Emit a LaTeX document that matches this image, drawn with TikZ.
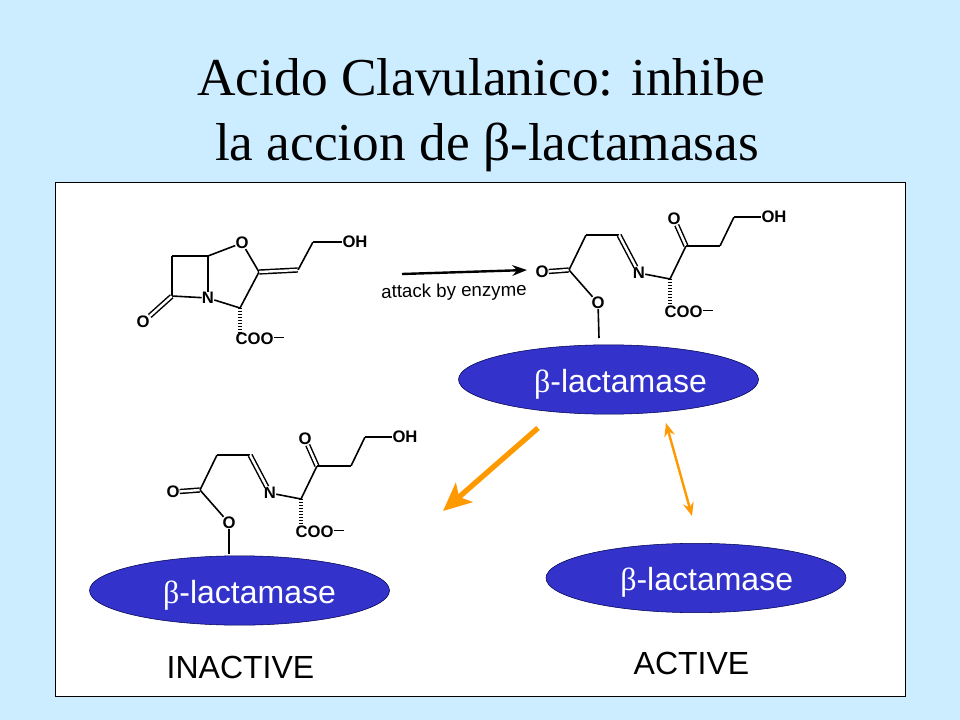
\documentclass[tikz,border=0pt]{standalone}
\usepackage{fontspec}
\setmainfont{Liberation Serif}
\setsansfont{Liberation Sans}
\usetikzlibrary{arrows.meta,shapes.geometric}
\definecolor{slidebg}{HTML}{CCECFF}
\definecolor{enzblue}{HTML}{3333CC}
\definecolor{arrowor}{HTML}{FF9900}
\newcommand{\betaup}{{\rmfamily β}}
\newcommand{\coominus}{COO\raisebox{5pt}{\rule{8pt}{1pt}}}
\tikzset{
	atom/.style={inner sep=0pt, font=\sffamily\bfseries\fontsize{12.5}{12.5}\selectfont},
	cjoin/.style={inner sep=0pt, minimum size=0pt},
	bond/.style={line width=1.2pt, line join=round},
	dbond/.style={line width=1.1pt, double, double distance=1.8pt},
	hashbond/.style={line width=2.6pt, dash pattern=on 0.9pt off 1.3pt},
	enzyme/.style={ellipse, draw=black!70!blue, line width=0.4pt, fill=enzblue, text=white,
		minimum width=225pt, minimum height=52pt, inner sep=0pt, font=\sffamily\fontsize{24}{24}\selectfont},
	caption/.style={font=\sffamily\fontsize{24}{24}\selectfont}
}
\begin{document}
\begin{tikzpicture}[x=0.75pt, y=-0.75pt]
	\useasboundingbox (0,0) rectangle (960,720);
	\fill[slidebg] (0,0) rectangle (960,720);
	\draw[fill=white, line width=0.7pt] (55,182) rectangle (905,696);
	% title
	\node (title1) at (481,77) {\fontsize{40}{40}\selectfont Acido Clavulanico: inhibe};
	\node (title2) at (487,147) {\fontsize{40}{40}\selectfont la accion de β-lactamasas};
	% enzymes
	\node[enzyme] (enz1) at (608.5,379.5) {\rule{0pt}{24pt}\hspace{18pt}\betaup-lactamase};
	\node[enzyme] (enz2) at (239.5,590.5) {\rule{0pt}{24pt}\hspace{15pt}\betaup-lactamase};
	\node[enzyme] (enz3) at (696,578) {\rule{0pt}{24pt}\hspace{16pt}\betaup-lactamase};
	% clavulanate
	\node[atom] (o1) at (242,243) {O};
	\node[cjoin] (c5) at (208,256) {};
	\node[cjoin] (c6) at (172,256) {};
	\node[cjoin] (c7) at (172,296) {};
	\node[atom] (n4) at (208,298) {N};
	\node[cjoin] (c3) at (240,308) {};
	\node[cjoin] (c2) at (259,272) {};
	\node[cjoin] (c8) at (298,270) {};
	\node[cjoin] (c9) at (313,242) {};
	\node[atom] (oh) at (355,242) {OH};
	\node[atom] (o7) at (143,322) {O};
	\node[atom] (coo) at (260,339) {\coominus};
	\draw[bond] (c5) -- (o1);
	\draw[bond] (c5) -- (c6);
	\draw[bond] (c6) -- (c7);
	\draw[bond] (c7) -- (n4);
	\draw[bond] (c5) -- (n4);
	\draw[bond] (n4) -- (c3);
	\draw[bond] (c3) -- (c2);
	\draw[bond] (c2) -- (o1);
	\draw[dbond] (c2) -- (c8);
	\draw[bond] (c8) -- (c9);
	\draw[bond] (c9) -- (oh);
	\draw[dbond] (c7) -- (o7);
	\draw[hashbond] (c3) -- (c3 |- coo.north);
	% open chain, drawn twice
	\foreach \m/\dx/\dy in {top/369/-220, low/0/0} {
		\begin{scope}[shift={(\dx,\dy)}]
			\node[atom] (\m o1) at (173,492) {O};
			\node[cjoin] (\m c1) at (200,490) {};
			\node[cjoin] (\m c2) at (217,455) {};
			\node[cjoin] (\m c3) at (250,455) {};
			\node[atom] (\m n) at (270,493) {N};
			\node[cjoin] (\m c4) at (301,499) {};
			\node[cjoin] (\m c5) at (317,466) {};
			\node[atom] (\m o2) at (305,439) {O};
			\node[cjoin] (\m c6) at (351,466) {};
			\node[cjoin] (\m c7) at (365,437) {};
			\node[atom] (\m oh) at (405,437) {OH};
			\node[atom] (\m o3) at (229,523) {O};
			\node[atom] (\m coo) at (320,532) {\coominus};
			\draw[dbond] (\m c1) -- (\m o1);
			\draw[bond] (\m c1) -- (\m c2);
			\draw[bond] (\m c2) -- (\m c3);
			\draw[dbond] (\m c3) -- (\m n);
			\draw[bond] (\m n) -- (\m c4);
			\draw[bond] (\m c4) -- (\m c5);
			\draw[dbond] (\m c5) -- (\m o2);
			\draw[bond] (\m c5) -- (\m c6);
			\draw[bond] (\m c6) -- (\m c7);
			\draw[bond] (\m c7) -- (\m oh);
			\draw[bond] (\m c1) -- (\m o3);
			\draw[hashbond] (\m c4) -- (\m c4 |- \m coo.north);
		\end{scope}
	}
	\coordinate (topend) at (599,338);
	\coordinate (lowend) at (229,554);
	\draw[bond] (topo3) -- (topend);
	\draw[bond] (lowo3) -- (lowend);
	% arrows
	\coordinate (a1) at (402,274);
	\coordinate (a2) at (527,270);
	\draw[line width=1.8pt, -{Stealth[length=11pt,width=8pt]}] (a1) -- (a2);
	\node[font=\sffamily\fontsize{14}{14}\selectfont, rotate=1, inner sep=0pt] (attack) at (454,292) {attack by enzyme};
	\coordinate (b1) at (538,428);
	\coordinate (b2) at (443,511);
	\coordinate (d1) at (666,423);
	\coordinate (d2) at (692,516);
	\draw[arrowor, line width=4pt, -{Stealth[length=21pt,width=19pt,inset=5pt]}] (b1) -- (b2);
	\draw[arrowor, line width=1.8pt, {Stealth[length=10pt,width=8pt]}-{Stealth[length=10pt,width=8pt]}] (d1) -- (d2);
	% captions
	\node[caption] (inact) at (240.5,667) {INACTIVE};
	\node[caption] (act) at (691.5,663) {ACTIVE};
\end{tikzpicture}
\end{document}
